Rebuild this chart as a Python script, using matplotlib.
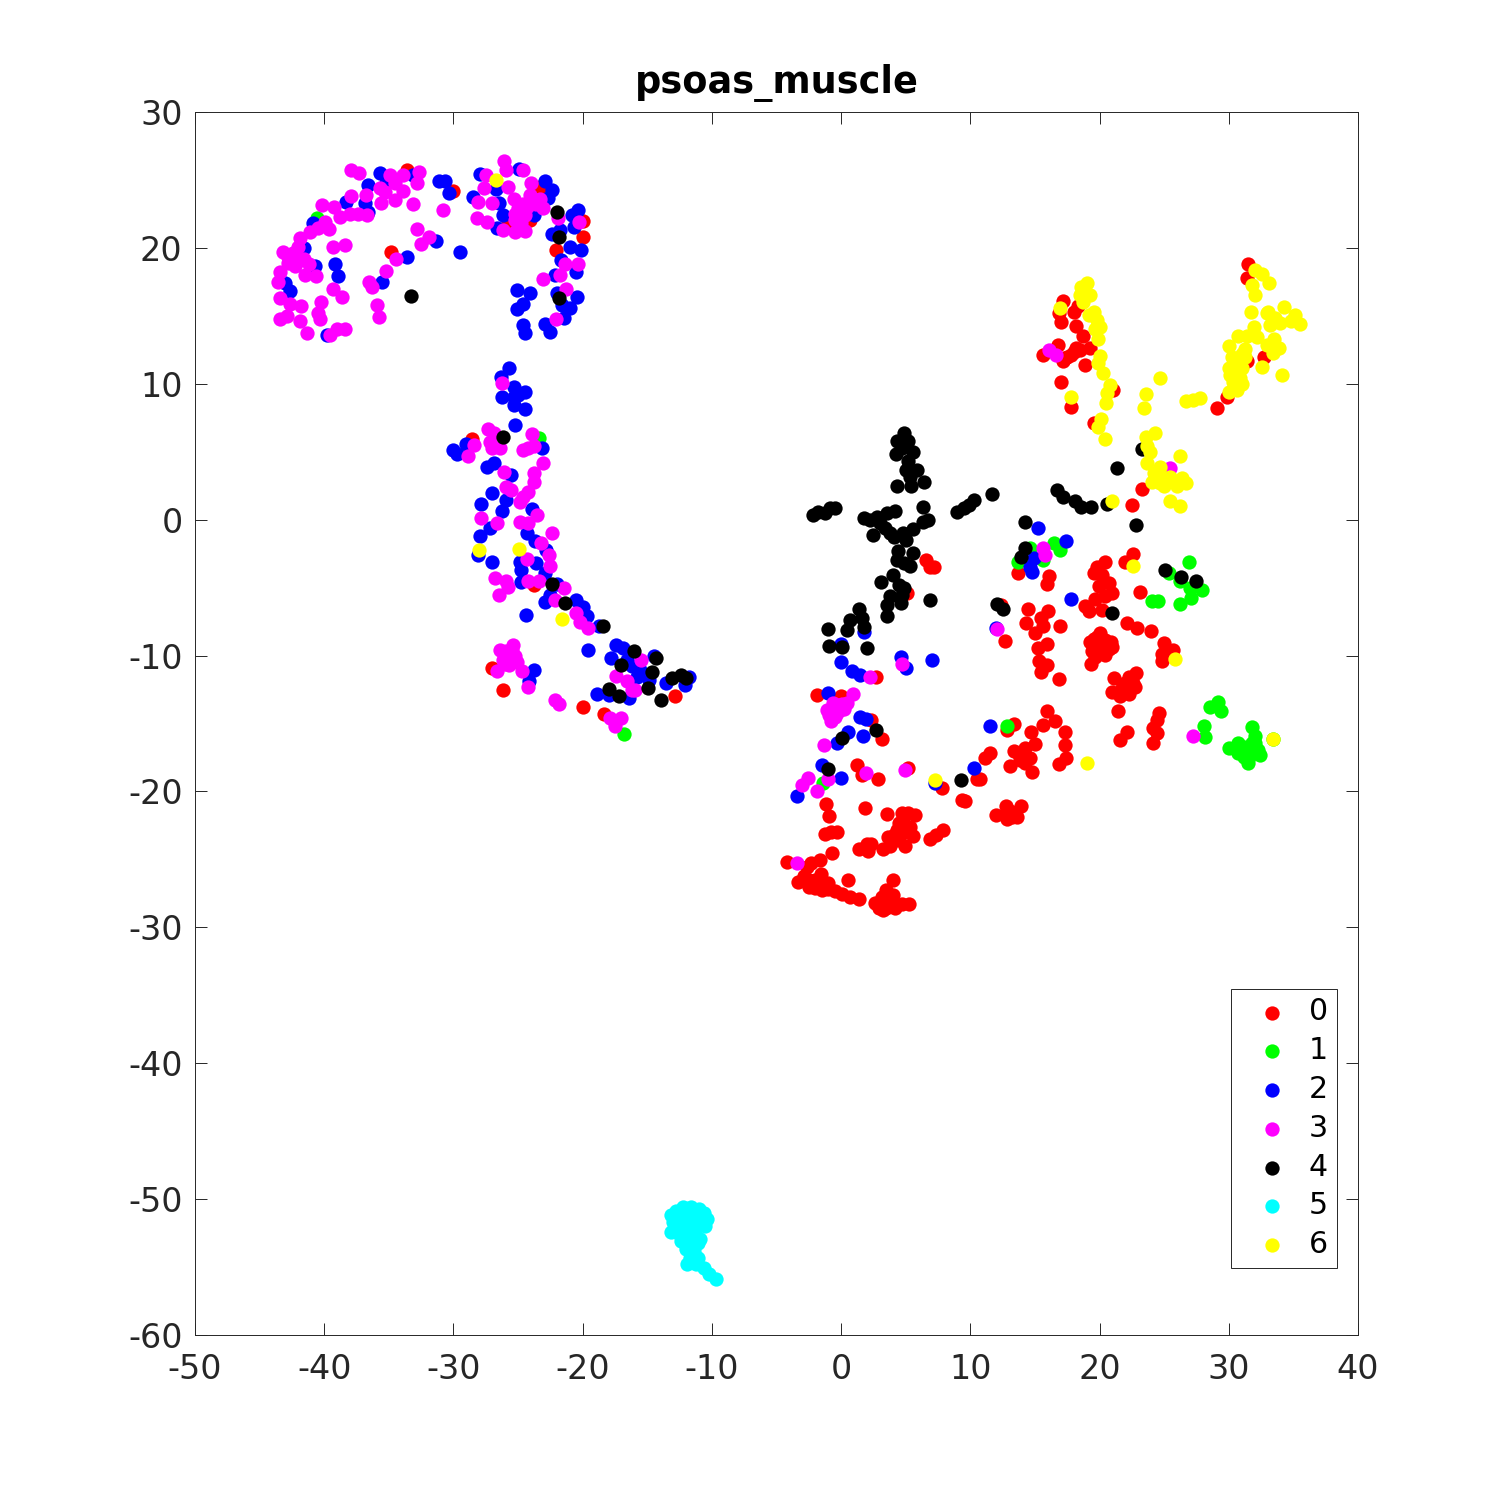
import matplotlib
matplotlib.use("Agg")
import matplotlib.pyplot as plt

title_text = "psoas_muscle"
labels = ["0", "1", "2", "3", "4", "5", "6"]
colors = ["#ff0000", "#00ff00", "#0000ff", "#ff00ff", "#000000", "#00ffff", "#ffff00"]
x_ticks = list(range(-50, 41, 10))
y_ticks = list(range(-60, 31, 10))

class_0 = [
(-33.6,25.75),(-30,24.2),(-34.8,19.7),(-23.3,24.5),(-24.05,22.05),(-25.75,22),(-19.95,22),(-20,20.8),(-22.05,19.85),
(-28.6,5.9),(-27.05,-10.9),(-26.15,-12.55),(-23.75,-4.8),(-20,-13.8),(-18.35,-14.3),(-12.85,-13),
(6.6,-2.95),(6.9,-3.45),(7.15,-3.45),(5.1,-5.4),(2.7,-11.55),
(31.45,18.8),(31.4,17.75),(17.15,16.1),(16.85,15.2),(18,15.3),(18.35,15.7),(17,14.55),(18.2,14.25),(18.75,13.5),(16.8,12.85),(15.65,12.1),
(19.25,12.6),(18.5,12.5),(18,12.35),(17.5,12),(17.2,11.7),(18.9,11.4),(17,10.15),(17.8,8.3),(19.55,7.1),(21.05,9.55),(29.85,9.05),(29.05,8.25),
(31.4,11.65),(32.75,12),(23.25,2.25),(22.5,1.1),(18.2,12.6),(17.8,12.1),(17.3,11.9),
(13.7,-3.9),(16.1,-4.15),(15.95,-4.7),(20.45,-3.1),(19.8,-3.45),(19.55,-3.9),(20.2,-4.05),(20.7,-4.65),(19.95,-4.9),(20.95,-5.4),(20.45,-5.65),(19.65,-5.85),
(18.85,-6.35),(19.15,-6.75),(20.2,-6.65),(22.6,-2.5),(22,-3.15),(23.15,-5.35),(14.5,-6.55),(16,-6.7),(15.5,-7.25),(14.3,-7.6),(15.65,-7.85),(16.95,-7.8),(15,-8.35),
(12.65,-8.9),(12.4,-6.3),(15.9,-9.15),(15.25,-9.45),(15.3,-10.4),(15.95,-10.7),(15.5,-11.2),(16.9,-11.7),(20,-8.35),(19.25,-9),(20.45,-8.85),(20.95,-9.35),(19.65,-9.45),
(20.45,-9.95),(19.65,-10.1),(19.3,-10.6),(22.1,-7.6),(22.9,-8),(24,-8.2),(25,-9.1),(25.7,-9.6),(24.8,-10.4),(24.8,-9.85),
(19.8,-8.6),(20.3,-9.5),(19.9,-9.8),(20.7,-9.5),(19.4,-9.7),(20,-9.2),(19.6,-8.8),(20.9,-9),
(22.8,-11.25),(22.25,-11.55),(21.1,-11.65),(22.75,-12.3),(22,-12),(21,-12.65),(21.6,-13),(22.25,-12.8),(21.4,-14.05),(24.6,-14.25),(24.45,-14.75),(24.15,-15.35),(24.45,-15.7),
(22.2,-12.5),(22.6,-12),(21.7,-12.4),
(24.1,-16.45),(22.1,-15.6),(21.6,-16.2),(17.35,-15.65),(17.35,-16.6),(17.4,-17.55),(16.9,-18),(14.7,-15.65),(15,-16.5),(15.9,-14.05),(16.55,-14.85),(15.65,-15.1),(13.35,-15),(12.8,-15.5),
(13.35,-17.05),(14.25,-16.8),(13.1,-18.15),(13.85,-17.7),(14.65,-17.55),(14.75,-18.55),(11.55,-17.2),(11.15,-17.55),(10.75,-19.1),(14.1,-17.2),(13.7,-17.2),(14.2,-17.9),
(-1.9,-12.9),(-0.03,-13),(2.35,-14.75),(3.15,-16.15),(1.25,-18.05),(1.6,-18.8),(2.85,-19.1),(5.15,-18.3),(7.8,-19.75),(10.55,-19.1),(9.35,-20.6),(9.55,-20.7),
(-1.2,-20.9),(-0.95,-21.8),(1.85,-21.2),(-1.25,-23.15),(-0.75,-23),(-0.35,-23),(-0.7,-24.55),(3.55,-21.65),(4.7,-21.55),(5.2,-21.6),(5.7,-21.75),(4.8,-22.25),(4.3,-22.85),(5.35,-22.6),
(3.65,-23.35),(5.6,-23.3),(4.95,-24),(4.2,-23.55),(3.8,-24.05),(3.25,-24.25),(1.35,-24.25),(2,-23.85),(2.35,-23.85),(2.1,-24.4),(7.85,-22.85),(7.35,-23.2),(6.85,-23.5),
(4.5,-22.3),(4.9,-23),(5,-22.9),(4.1,-23.2),(4.5,-23.6),
(-4.15,-25.2),(-1.65,-25.05),(-2.3,-25.3),(-2.65,-25.55),(-1.55,-26.1),(0.5,-26.5),(4.05,-26.5),(-2.9,-26.25),(-3.3,-26.7),(-2.45,-27),(-2,-26.5),(-1,-26.75),(-1.5,-27.25),(-0.45,-27.35),
(-1.5,-26.6),(-2.5,-26.5),(-1,-27.2),(-2,-27.1),
(0.1,-27.55),(0.7,-27.75),(1.4,-27.9),(3.5,-27.25),(4.05,-27.6),(2.6,-28.2),(3.25,-28.7),(3.55,-28.25),(4.15,-28.6),(4.7,-28.25),(5.25,-28.25),(3,-28.35),
(3.5,-28.6),(3.8,-28.3),(2.9,-28.6),(3.2,-27.8),(3.8,-28),
(11.95,-21.7),(12.75,-21.05),(12.85,-22),(13.6,-21.85),(13.95,-21.05),(13.2,-21.5),(13.2,-21.9),(12.9,-21.4),
]
class_1 = [
(-40.55,22.2),(-16.8,-15.8),(-23.4,6),
(14.6,-2.05),(13.7,-3.1),(16.45,-1.75),(16.95,-2.25),(15.65,-3),
(24.05,-6),(24.5,-6),(26.95,-3.15),(25.35,-3.95),(26.2,-4.55),(27,-5.05),(27.9,-5.2),(27.05,-5.8),(26.2,-6.2),
(29.2,-13.45),(28.55,-13.75),(29.4,-14.05),(28.1,-15.15),(28.15,-16),(31.8,-15.25),(32,-15.95),(30,-16.8),(30.75,-16.45),(30.75,-17.2),(31.4,-17.05),(32.3,-16.95),(31.8,-16.45),
(31.45,-17.9),(31.15,-17.45),(32.45,-17.3),(33.4,-16.15),(12.8,-15.15),(-1.4,-19.4),
(31,-16.8),(31.6,-17.5),(31.9,-16.8),(32,-16.4),(31.2,-16.7),(31.7,-17.2),
]
class_2 = [
(-35.7,25.5),(-35.2,24.75),(-36.65,24.6),(-38.3,23.4),(-36.85,23.3),(-36.6,22.65),(-40.85,21.85),(-41.6,20),(-40.7,18.65),(-39.15,18.8),(-38.95,17.9),(-43,17.4),(-42.65,16.85),(-39.8,13.6),
(-33.1,25.4),(-31.1,24.95),(-30.65,24.95),(-30.35,24.05),(-33.6,19.3),(-31.35,20.5),(-35.5,17.5),(-29.5,19.7),
(-27.95,25.45),(-24.9,25.8),(-26.7,24.3),(-28.45,23.75),(-26.45,23.3),(-26.2,22.4),(-26.6,21.5),(-22.9,24.9),(-22.4,24.25),(-22.65,23.65),(-23.75,22.4),(-20.85,22.45),(-20.35,22.8),
(-20.7,21.55),(-21.75,21.35),(-22.4,21),(-21,20.1),(-20.1,19.85),(-21.7,19.1),(-22.15,18),(-20.55,18.25),(-25.1,16.9),(-24.1,16.7),(-24.6,15.9),(-25.1,15.5),(-24.6,14.35),(-24.45,13.7),
(-22.9,14.4),(-22.55,13.8),(-21.95,16.7),(-20.45,16.4),(-21,15.6),(-21.6,15.8),(-21.45,14.85),
(-25.7,11.15),(-26.3,10.5),(-25.3,9.75),(-24.5,9.4),(-26.25,9),(-25.3,9.05),(-25,9.2),(-25.3,8.45),(-24.45,8.15),(-25.2,7),(-29,5.6),(-30.05,5.1),(-29.75,4.85),(-23.15,5.3),(-26.9,4.15),
(-27.4,3.85),(-25.55,3.3),(-27,1.95),(-27.9,1.15),(-25.9,1.45),(-26.25,0.65),(-27.2,-0.6),(-27.95,-1.2),(-28.1,-2.6),(-27,-3.15),(-23.95,0.8),(-24.3,-0.95),(-23.7,-1.6),(-24.85,-3.1),
(-23.6,-3.2),(-24.8,-3.7),(-22.85,-2.2),(-22.9,-3.95),(-24.8,-4.6),(-22.9,-6.05),(-22.5,-5.55),(-22,-4.7),(-20.5,-5.9),(-19.95,-6.4),(-19.7,-7.1),(-24.35,-7),(-18.7,-7.8),(-19.6,-9.6),
(-17.45,-9.2),(-16.85,-9.45),(-17.8,-10.2),(-16.6,-10.3),(-16.2,-10.8),(-15.8,-11.55),(-14.5,-10.05),(-14.9,-11.8),(-15.6,-11.05),(-13.55,-12.05),(-12.1,-12.15),(-11.8,-11.55),
(-18.9,-12.85),(-18,-12.9),(-16.45,-13.1),(-23.75,-11.05),(-24.15,-11.9),
(15.2,-0.6),(17.4,-1.55),(14.9,-2.85),(14.65,-3.45),(14.8,-3.85),(1.75,-8.25),(0,-9.15),(0,-10.45),(0.85,-11.1),(1.45,-11.45),(4.6,-10.1),(5.05,-10.9),(7.05,-10.35),(-1,-12.75),
(17.8,-5.85),(11.55,-15.15),(12,-8),(1.5,-14.55),(1.95,-14.7),(0.55,-15.65),(1.7,-15.9),(-0.35,-16.45),(-1.45,-18.05),(0,-19),(-3.4,-20.3),(10.3,-18.25),(7.25,-19.4),
]
class_3 = [
(-37.95,25.73),(-37.3,25.5),(-34.9,25.4),(-33.9,25.4),(-32.7,25.6),(-32.85,24.8),(-34.5,24.75),(-35.7,24.4),(-35.3,24.1),(-33.9,24.2),(-34.5,23.5),(-35.6,23.3),(-33.1,23.2),(-30.8,22.8),
(-37.95,23.8),(-36.8,23.9),(-40.2,23.15),(-39.25,23),(-38.8,22.3),(-38,22.5),(-37.4,22.5),(-36.7,22.4),(-39.95,21.9),(-39.6,21.4),(-40.45,21.5),(-41.1,21.2),(-41.9,20.7),(-42,20.1),(-43.2,19.7),
(-42.4,19.6),(-42.8,18.9),(-43.4,18.25),(-43.55,17.5),(-42.3,18.7),(-41.2,18.8),(-41.5,18),(-40.6,17.9),(-39.35,20.1),(-38.4,20.2),(-32.8,21.4),(-31.9,20.8),(-32.5,20.3),(-34.45,19.15),
(-42.8,19.3),(-42,19),(-41.6,19.2),
(-35.25,18.3),(-36.5,17.5),(-36.3,17.1),(-39.3,17),(-38.6,16.4),(-43.4,16.3),(-42.65,15.9),(-41.8,15.7),(-40.25,16),(-40.45,15.2),(-40.3,14.8),(-35.9,15.8),(-35.75,14.9),(-43.4,14.75),
(-42.85,15),(-41.9,14.6),(-41.35,13.75),(-39.55,13.6),(-39,14),(-38.4,14),
(-26.05,26.4),(-25.95,25.7),(-24.6,25.75),(-27.5,25.4),(-27.65,24.4),(-25.8,24.5),(-28.1,23.4),(-27.05,23.3),(-24,24.8),(-25.35,23.6),(-24.05,23.9),(-23.3,23.6),(-23.1,22.9),(-25,22.9),
(-24.45,22.4),(-25.25,22.05),(-28.15,22.2),(-27.4,21.9),(-26.15,21.35),(-25.25,21.2),(-24.45,21.25),(-20.3,21.9),(-21.9,22.2),(-21.35,18.8),(-20.35,18.85),(-21.75,18),(-23.05,17.7),(-21.3,17),(-22.1,14.75),
(-24.8,21.8),(-24.3,23),(-25.2,22.5),(-24.6,23.2),(-23.6,23.2),
(-26.25,10.05),(-27.3,6.7),(-26.9,6.35),(-27.15,5.75),(-27.05,5.25),(-26.4,5.25),(-28.4,5.5),(-28.9,4.65),(-23.95,6.3),(-23.8,5.45),(-24.6,5.1),(-24.2,5.25),(-23.05,4.2),(-26.1,3.5),(-23.8,3.4),
(-23.75,2.8),(-25.9,2.4),(-25.55,2.15),(-24.2,2.05),(-24.6,1.7),(-24.85,1.33),(-23.55,0.35),(-24.85,-0.15),(-24.2,-0.25),(-27.9,0.1),(-26.6,-0.25),(-22.4,-1),(-23.25,-1.7),(-22.6,-2.6),(-22.5,-3.4),
(-24.3,-2.9),(-26.75,-4.3),(-25.9,-4.55),(-25.75,-4.95),(-26.45,-5.55),(-24.2,-4.5),(-23.35,-4.5),(-21.45,-5.05),(-22.15,-5.9),(-20.5,-6.9),(-20.2,-7.55),(-19.55,-8),
(-26.4,-9.6),(-25.4,-9.2),(-25.9,-9.7),(-25.25,-10.05),(-26.15,-10.3),(-25.7,-10.7),(-25.1,-10.45),(-26.6,-11.1),(-24.7,-11.1),(-24.25,-12.3),(-22.15,-13.25),(-21.85,-13.6),(-15.45,-10.3),
(-25.6,-10),(-25.8,-10.2),(-25.5,-9.6),(-26,-10.6),
(-17.45,-11.5),(-16.55,-11.9),(-16.2,-12.5),(-15.95,-12.5),(-17.9,-14.6),(-17,-14.6),(-17.5,-15.2),
(15.65,-2.1),(15.8,-2.6),(4.75,-10.65),(2.2,-11.6),(12.1,-8.05),(16.05,12.5),(16.65,12.15),(25.45,3.8),(27.2,-15.95),
(0.95,-12.85),(0.45,-13.5),(-0.6,-13.5),(-1.1,-14),(-0.1,-14),(-0.45,-14.5),(-0.75,-14.8),(-0.2,-13.65),(-1.3,-16.6),(1.95,-18.65),(4.95,-18.45),(-2.55,-19),(-3,-19.5),(-1.9,-19.95),(-1.05,-19.1),(-3.45,-25.25),
(-0.6,-14),(-0.3,-14.2),(0.1,-13.6),(-0.9,-14.4),(-0.5,-13.8),(0.2,-13.9),
]
class_4 = [
(-33.3,16.45),(-22,22.65),(-21.85,20.8),(-21.8,16.3),
(-26.15,6.1),(-22.35,-4.75),(-21.4,-6.15),(-18.45,-7.85),(-16,-9.7),(-14.3,-10.2),(-17,-10.7),(-14.6,-11.2),(-13.1,-11.65),(-12.4,-11.4),(-12,-11.65),(-14.95,-12.4),(-17.95,-12.45),(-17.2,-12.95),(-13.9,-13.3),
(4.9,6.35),(4.35,5.8),(5.2,5.8),(4.7,5.25),(4.25,4.8),(5.6,4.95),(5.2,4.3),(5.05,3.65),(5.85,3.65),(5.35,3.15),(6.45,2.75),(4.3,2.5),(5.4,2.45),(11.7,1.9),(10.25,1.45),(9.9,1.1),(9.5,0.85),(9,0.55),
(-2.2,0.35),(-1.75,0.55),(-1.25,0.47),(-0.85,0.85),(-0.5,0.85),(1.8,0.1),(2.25,0),(2.75,0.2),(3.55,0.5),(4.2,0.65),(3,-0.25),(6.3,0.9),(6.7,-0.05),(6.3,-0.15),(3.4,-0.65),(2.45,-1.15),(3.8,-1),(4.1,-1.3),
(4.8,-1),(5.6,-0.7),(5,-1.5),(4.4,-2.3),(5.55,-2.45),(4.3,-2.95),(4.85,-3.2),(5.3,-3.4),(4.05,-4.05),(3.05,-4.6),(4.45,-4.8),(4.9,-5),(3.75,-5.65),(4.7,-5.55),(3.55,-6.3),(4.6,-6.15),(3.55,-7.1),(6.9,-5.9),
(1.35,-6.55),(0.7,-7.4),(0.45,-8.1),(1.6,-7.25),(1.75,-7.9),(-1.05,-8.05),(-0.95,-9.3),(0.1,-9.4),(2,-9.45),
(16.7,2.15),(17.2,1.7),(18.1,1.4),(18.6,0.95),(19.35,0.95),(14.2,-0.2),(14.2,-2.1),(13.9,-2.75),(12.05,-6.2),(12.5,-6.55),
(21.35,3.8),(23.25,5.2),(22.8,-0.4),(20.55,1.15),(25.1,-3.7),(26.3,-4.25),(27.5,-4.5),(21,-6.9),(2.7,-15.5),(0.1,-16.1),(-1,-18.35),(9.3,-19.15),
]
class_5 = [
(-12.2,-50.6),(-11.6,-50.6),(-11,-50.7),(-10.6,-51),(-12.8,-50.9),(-13.2,-51.2),(-12.4,-51.2),(-11.8,-51.2),(-11.2,-51.3),(-10.4,-51.5),(-13,-51.7),(-12.3,-51.8),(-11.6,-51.9),(-10.9,-51.8),(-10.5,-52),
(-13.2,-52.4),(-12.6,-52.5),(-12,-52.5),(-11.3,-52.6),(-10.9,-52.9),(-12.4,-53.1),(-11.8,-53.2),(-11.1,-53.2),(-12,-53.7),(-11.4,-53.8),(-11.7,-54.3),(-11.1,-54.3),(-11.9,-54.8),(-11.2,-54.8),(-10.6,-55.1),(-10.2,-55.5),(-9.7,-55.9),
]
class_6 = [
(-26.7,25),(-28.05,-2.2),(-24.9,-2.15),(-21.6,-7.3),
(19,17.4),(18.6,17.1),(19.25,16.55),(18.5,16.55),(18.75,16.05),(16.95,15.55),(19.6,15.3),(19.15,15.05),(19.8,14.7),(20.05,14.2),(19.65,14),(19.85,13.3),(20,12.05),(19.9,11.5),(20.3,10.8),(20.8,9.9),
(20.55,9.3),(20.5,8.6),(17.8,9),(20.1,7.4),(19.9,6.85),(20.45,5.9),(24.7,10.4),(23.6,9.25),(23.45,8.2),(26.7,8.75),(27.25,8.8),(27.8,8.95),
(24.3,6.35),(23.6,6.05),(23.65,5.4),(23.9,5),(23.7,4.2),(26.2,4.7),(24.7,3.9),(24.2,3.4),(24.8,3.15),(25.45,3.15),(24.05,2.8),(25,2.45),(26.35,3.05),(26.7,2.7),(26,2.45),(25.45,1.35),(26.2,1),(21,1.4),
(25.2,2.9),(24.5,3),(24.7,2.7),
(32,18.4),(32.55,18.1),(33.1,17.45),(31.8,17.25),(32.05,16.55),(31.7,15.3),(32.95,15.2),(33.05,15.3),(34.3,15.65),(35.15,15.05),(35.55,14.4),(34.85,14.6),(34,14.45),(33.2,14.35),(33.6,14.85),(31.95,14.15),
(30.7,13.55),(31.4,13.55),(32.2,13.45),(30,12.8),(33.5,13.3),(32.95,12.85),(33.9,12.6),(33.45,12.25),(31.25,12.55),(30.25,11.95),(31.25,12),(30,11.15),(31,11.15),(30.35,11.4),(30.1,10.65),(30.9,10.4),
(30.35,10.15),(31,10),(30,9.4),(30.65,9.55),(32.6,11.25),(34.1,10.65),
(30.5,11),(30.8,11.6),(30.4,10.5),(30.7,10.2),(31,12.2),
(22.55,-3.4),(25.8,-10.25),(33.45,-16.15),(19,-17.9),(7.25,-19.15),
]
classes = [class_0, class_1, class_2, class_3, class_4, class_5, class_6]

fig = plt.figure(figsize=(15, 15), dpi=100, facecolor="white")
ax = fig.add_axes([195/1500, 165/1500, 1163/1500, 1223/1500])
for pts, col, lab in zip(classes, colors, labels):
    ax.scatter([p[0] for p in pts], [p[1] for p in pts], s=106, c=col, linewidths=0, label=lab, zorder=3)

ax.set_xlim(-50, 40)
ax.set_ylim(-60, 30)
ax.set_xticks(x_ticks)
ax.set_yticks(y_ticks)
ax.set_xticklabels([str(v) for v in x_ticks])
ax.set_yticklabels([str(v) for v in y_ticks])
ax.tick_params(direction="in", top=True, right=True, length=8.6, width=0.7,
               labelsize=24, color="#262626", labelcolor="#262626")
ax.tick_params(axis="x", pad=13)
ax.tick_params(axis="y", pad=9)
for s in ax.spines.values():
    s.set_linewidth(0.7)
    s.set_color("#262626")
ax.set_title(title_text, fontsize=26.4, fontweight="bold", color="black", pad=14)

leg = ax.legend(loc="lower right", bbox_to_anchor=(1337/1500, (1500-1268)/1500),
                bbox_transform=fig.transFigure, fontsize=21.6, frameon=True, fancybox=False,
                framealpha=1, edgecolor="#262626", borderaxespad=0, borderpad=0.3,
                labelspacing=0.325, handletextpad=0.17, handlelength=2.13, scatterpoints=1)
leg.get_frame().set_linewidth(0.7)
fig.savefig("out.png", dpi=100, facecolor="white")
